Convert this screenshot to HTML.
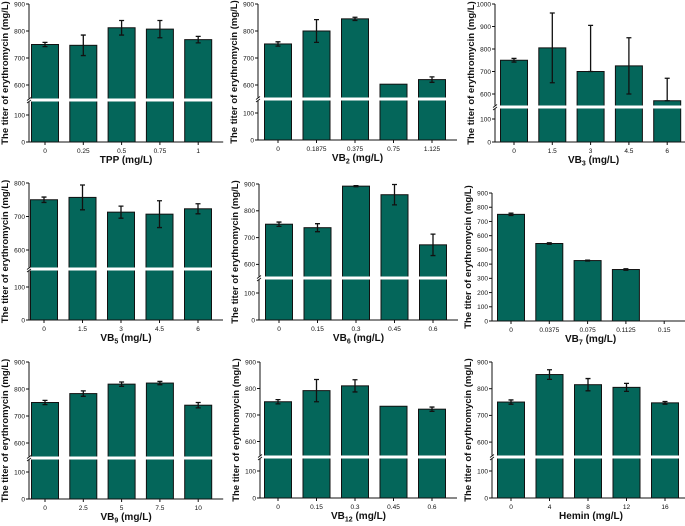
<!DOCTYPE html>
<html><head><meta charset="utf-8"><style>
html,body{margin:0;padding:0;background:#fff;}
svg{display:block;font-family:"Liberation Sans",sans-serif;}
</style></head><body>
<svg id="c" width="685" height="526" viewBox="0 0 685 526"></svg>
<script>
// ---- data ----
const cats1=["0","0.25","0.5","0.75","1"];
const vals1=[750,747,812,807,768];
const errU1=[8,38,27,32,12];
const errD1=[8,38,27,32,12];
const cats2=["0","0.1875","0.375","0.75","1.125"];
const vals2=[752,800,845,603,620];
const errU2=[8,42,6,0,10];
const errD2=[8,42,6,0,10];
const cats3=["0","1.5","3","4.5","6"];
const vals3=[750,805,700,725,570];
const errU3=[8,155,205,125,100];
const errD3=[8,155,0,125,0];
const cats4=["0","1.5","3","4.5","6"];
const vals4=[750,757,713,707,723];
const errU4=[8,37,18,40,15];
const errD4=[8,37,18,40,15];
const cats5=["0","0.15","0.3","0.45","0.6"];
const vals5=[750,737,892,860,673];
const errU5=[8,15,2,38,40];
const errD5=[8,15,2,38,40];
const cats6=["0","0.0375","0.075","0.1125","0.15"];
const vals6=[750,545,425,362,0];
const errU6=[8,5,3,5,0];
const errD6=[8,5,3,5,0];
const cats7=["0","2.5","5","7.5","10"];
const vals7=[750,783,818,822,740];
const errU7=[8,10,8,6,10];
const errD7=[8,10,8,6,10];
const cats8=["0","0.15","0.3","0.45","0.6"];
const vals8=[750,792,810,733,722];
const errU8=[8,42,23,0,8];
const errD8=[8,42,23,0,8];
const cats9=["0","4","8","12","16"];
const vals9=[750,853,815,805,747];
const errU9=[8,18,23,15,5];
const errD9=[8,18,23,15,5];
const upTicks1=[600,700,800,900];
const upTicks3=[600,700,800,900,1000];
const upTicks4=[600,700,800];
const lowTicks=[0,100];
const linTicks6=[0,100,200,300,400,500,600,700,800,900];

// ---- layout ----
const NS="http://www.w3.org/2000/svg";
const svg=document.getElementById('c');
function mk(t,a,p){const e=document.createElementNS(NS,t);for(const k in a)e.setAttribute(k,a[k]);(p||svg).appendChild(e);return e;}

const panels=[
 {ax:29,y0:142,yb:100,refV:900,refY:4,k:0.27,kl:0.27,bx:45,sp:38.3,cats:cats1,vals:vals1,eu:errU1,ed:errD1,ut:upTicks1,xt:"TPP (mg/L)",n:"tpp"},
 {ax:258,y0:140,yb:99,refV:900,refY:4,k:0.27,kl:0.27,bx:278,sp:38.5,cats:cats2,vals:vals2,eu:errU2,ed:errD2,ut:upTicks1,xt:"VB",sub:"2",n:"vb2"},
 {ax:495,y0:142,yb:107,refV:1000,refY:4,k:0.225,kl:0.23,bx:514,sp:38.3,cats:cats3,vals:vals3,eu:errU3,ed:errD3,ut:upTicks3,xt:"VB",sub:"3",n:"vb3"},
 {ax:29,y0:320,yb:269,refV:800,refY:183,k:0.335,kl:0.33,bx:44,sp:38.5,cats:cats4,vals:vals4,eu:errU4,ed:errD4,ut:upTicks4,xt:"VB",sub:"5",n:"vb5"},
 {ax:259,y0:320,yb:278,refV:900,refY:184,k:0.268,kl:0.27,bx:279,sp:38.5,cats:cats5,vals:vals5,eu:errU5,ed:errD5,ut:upTicks1,xt:"VB",sub:"6",n:"vb6"},
 {ax:492,y0:321,lin:true,refV:900,refY:193,k:0.1422,bx:511,sp:38.3,cats:cats6,vals:vals6,eu:errU6,ed:errD6,ut:linTicks6,xt:"VB",sub:"7",n:"vb7"},
 {ax:29,y0:499,yb:458,refV:900,refY:362,k:0.27,kl:0.27,bx:45,sp:38.3,cats:cats7,vals:vals7,eu:errU7,ed:errD7,ut:upTicks1,xt:"VB",sub:"9",n:"vb9"},
 {ax:260,y0:498,yb:457,refV:900,refY:362,k:0.265,kl:0.27,bx:278,sp:38.5,cats:cats8,vals:vals8,eu:errU8,ed:errD8,ut:upTicks1,xt:"VB",sub:"12",n:"vb12"},
 {ax:492,y0:498,yb:457,refV:900,refY:362,k:0.267,kl:0.27,bx:511,sp:38.5,cats:cats9,vals:vals9,eu:errU9,ed:errD9,ut:upTicks1,xt:"Hemin (mg/L)",n:"hemin"}
];

panels.forEach(P=>{
 const g=mk('g',{});
 
 
 const yUp=v=>P.refY+(P.refV-v)*P.k;
 const yLow=v=>P.y0-v*P.kl;
 const y=v=>{ if(P.lin) return P.y0-v*P.k; const yu=yUp(v); return yu<P.yb?yu:Math.max(yLow(v),P.yb); };
 const xs=i=>P.bx+i*P.sp;
 const bw=27;
 const xEnd=xs(P.cats.length-1)+25;
 P.vals.forEach((v,i)=>{
  const yt=y(v);
  if(v>0){
   const r=mk('rect',{x:xs(i)-bw/2,y:yt,width:bw,height:P.y0-yt,fill:'#04665a',stroke:'#111','stroke-width':1},g);
   
   
  }
  const up=P.eu[i],dn=P.ed[i];
  if(up>0||dn>0){
   const y1=y(v+up),y2=y(v-dn);
   const e=mk('path',{d:`M${xs(i)},${y1}V${y2}M${xs(i)-2.5},${y1}h5M${xs(i)-2.5},${y2}h5`,stroke:'#111','stroke-width':1.3,fill:'none'},g);
   
   
  }
 });
 const topY=P.lin?y(P.ut[P.ut.length-1]):P.refY;
 mk('path',{d:`M${P.ax},${topY}V${P.y0}H${xEnd}`,stroke:'#111','stroke-width':1,fill:'none'},g);
 if(!P.lin){
  const gap=mk('rect',{x:P.ax-2,y:P.yb-1.5,width:xEnd-P.ax+2,height:3,fill:'#fff'},g);
  
  
  mk('path',{d:`M${P.ax-2},${P.yb+0.5}l4,-3M${P.ax-2},${P.yb+3}l4,-3`,stroke:'#111','stroke-width':0.8},g);
 }
 const tks=P.lin?P.ut:P.ut.concat(lowTicks);
 tks.forEach(t=>{
  const ty=P.lin?y(t):(lowTicks.includes(t)?yLow(t):yUp(t));
  mk('line',{x1:P.ax-3,x2:P.ax,y1:ty,y2:ty,stroke:'#111','stroke-width':1},g);
  const tx=mk('text',{x:P.ax-4,y:ty+2.3,'font-size':6.5,'text-anchor':'end',fill:'#111'},g);
  tx.textContent=t;
  
  
 });
 P.cats.forEach((c,i)=>{
  mk('line',{x1:xs(i),x2:xs(i),y1:P.y0,y2:P.y0+3,stroke:'#111','stroke-width':1},g);
  const tx=mk('text',{x:xs(i),y:P.y0+11,'font-size':6.5,'text-anchor':'middle',fill:'#111'},g);
  tx.textContent=c;
  
  
 });
 const xt=mk('text',{x:(P.ax+xEnd)/2,y:P.y0+21,'font-size':10,'font-weight':'bold','text-anchor':'middle',fill:'#111'},g);
 
 
 if(P.sub){
  xt.appendChild(document.createTextNode(P.xt));
  const s=document.createElementNS(NS,'tspan');s.setAttribute('font-size',7);s.setAttribute('dy',2.5);s.textContent=P.sub;xt.appendChild(s);
  const r=document.createElementNS(NS,'tspan');r.setAttribute('dy',-2.5);r.textContent=' (mg/L)';xt.appendChild(r);
 } else xt.textContent=P.xt;
 const midY=(topY+P.y0)/2;
 const yx=P.ax-21;
 const yt=mk('text',{x:yx,y:midY,'font-size':9.5,'font-weight':'bold','text-anchor':'middle',fill:'#111',transform:`rotate(-90 ${yx} ${midY})`},g);
 yt.textContent='The titer of erythromycin (mg/L)';
 
 
});
</script>
</body></html>
